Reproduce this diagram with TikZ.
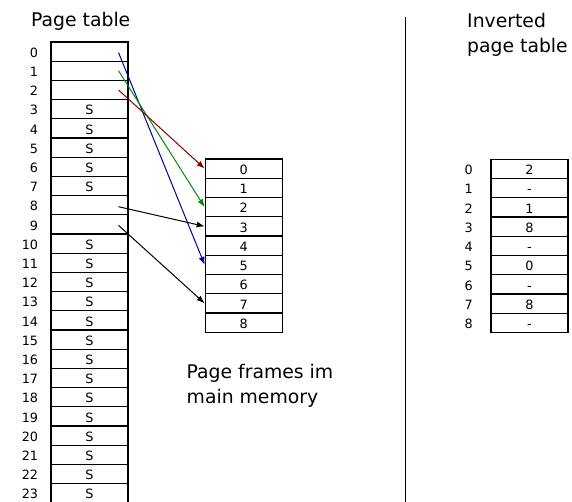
\documentclass[tikz,border=0pt]{standalone}
\usepackage{fontspec}
\setmainfont{DejaVu Sans}
\usetikzlibrary{arrows.meta}
\definecolor{mapblue}{RGB}{0,0,160}
\definecolor{mapgreen}{RGB}{0,140,0}
\definecolor{mapred}{RGB}{140,0,0}
\begin{document}
\begin{tikzpicture}[x=1pt,y=-1pt,
  cell/.style={draw, line width=1.1pt, minimum width=77pt, minimum height=19.2pt,
    inner sep=0pt, text height=11.4pt, text depth=0pt,
    font=\fontsize{12.8}{14}\selectfont},
  idx/.style={inner sep=0pt, font=\fontsize{12.8}{14}\selectfont},
  title/.style={inner sep=0pt, anchor=base west, font=\fontsize{18.8}{25}\selectfont},
  link/.style={line width=1pt, -{Latex[length=8pt,width=6pt]}}]
\clip (0,0) rectangle (572,502);

% page table (24 entries, swapped-out pages marked S)
\node[title] (pthead) at (31,26.7) {Page table};
\foreach \i/\t in {0/,1/,2/,3/S,4/S,5/S,6/S,7/S,8/,9/,10/S,11/S,12/S,13/S,14/S,
                   15/S,16/S,17/S,18/S,19/S,20/S,21/S,22/S,23/S} {
  \node[cell] (p\i) at (89.5,{51.6+19.2*\i}) {\t};
  \node[idx, anchor=base east] (pl\i) at (38.3,{57.3+19.2*\i}) {\i};
}

% page frames in main memory
\foreach \i in {0,...,8} {
  \node[cell] (f\i) at (243.7,{168.6+19.25*\i}) {\i};
}
\node[title] (fhead) at (186.5,378.3)
  {\begin{tabular}[t]{@{}l@{}}Page frames im\\main memory\end{tabular}};

% mappings from page table entries to frames
\draw[link, mapblue]  ([xshift=-10pt,yshift=-1pt]p0.east) -- (f5.west);
\draw[link, mapgreen] ([xshift=-10pt]p1.east) -- (f2.west);
\draw[link, mapred]   ([xshift=-10pt]p2.east) -- (f0.west);
\draw[link, black]    ([xshift=-10pt,yshift=-1.5pt]p8.east) -- (f3.west);
\draw[link, black]    ([xshift=-10pt,yshift=-1pt]p9.east) -- (f7.west);

% separator
\draw[line width=1.5pt] (405.7,17) -- (405.7,510);

% inverted page table (one entry per frame)
\node[title] (ihead) at (467,28)
  {\begin{tabular}[t]{@{}l@{}}Inverted\\page table\end{tabular}};
\foreach \i/\t in {0/2,1/-,2/1,3/8,4/-,5/0,6/-,7/8,8/-} {
  \node[cell] (iv\i) at (529.5,{168.9+19.25*\i}) {\t};
  \node[idx, anchor=base west] (il\i) at (464.5,{174.6+19.25*\i}) {\i};
}
\end{tikzpicture}
\end{document}
